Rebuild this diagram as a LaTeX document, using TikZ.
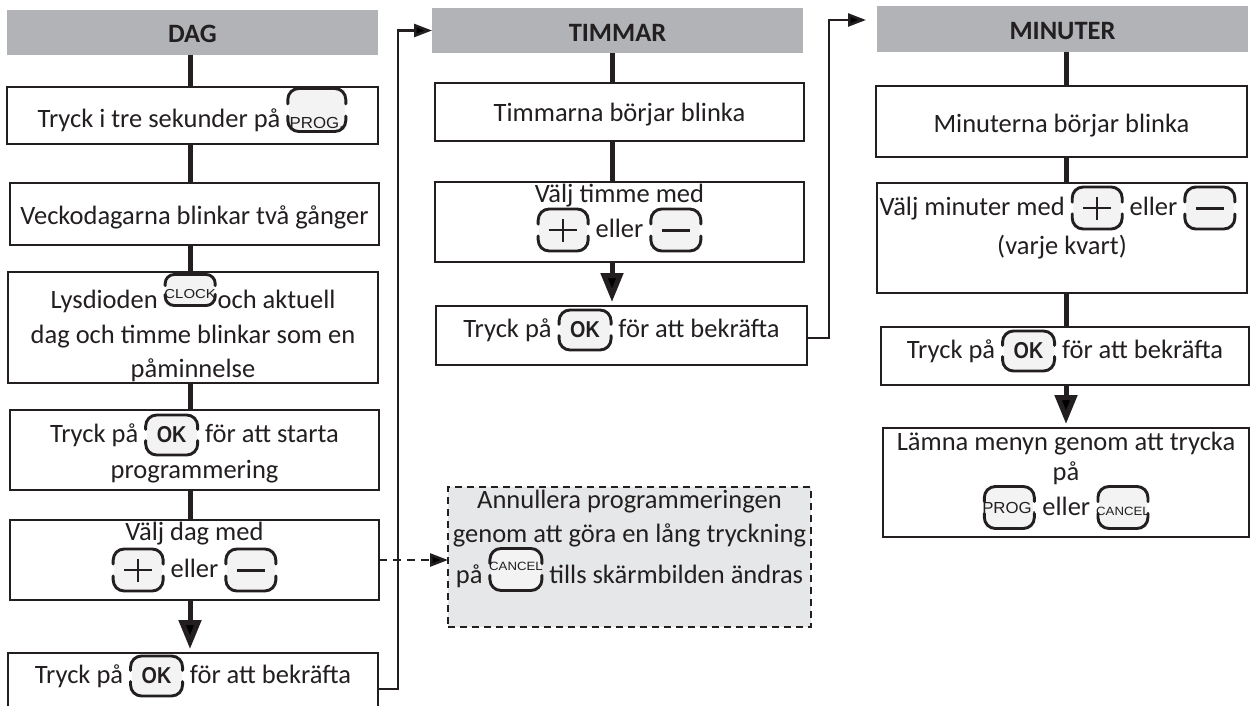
\documentclass[tikz,border=0pt]{standalone}
\usepackage{fontspec}
\setmainfont{Carlito}
\newfontfamily\lblfont{Liberation Sans}
\usepackage{graphicx}
\usetikzlibrary{arrows.meta,calc}
\definecolor{ink}{HTML}{231F20}
\definecolor{hdrgray}{HTML}{B1B3B6}
\definecolor{dashfill}{HTML}{E6E7E8}
\definecolor{btnbg}{HTML}{F3F3F3}
\tikzset{
  ilbl/.style={anchor=center,inner sep=0pt,outer sep=0pt,draw=none,fill=none,text=ink},
}
% #1 width, #2 height, #3 corner radius
\newcommand\btnframe[3]{%
  \fill[btnbg] ({-#1/2+1},{-#2/2+1}) rectangle ({#1/2-1},{#2/2-1});
  \draw[ink,line width=2.9pt,line cap=round]
    ({-#1/2},{#2/2-0.36*#2}) -- ({-#1/2},{#2/2-#3}) arc[start angle=180,end angle=90,radius=#3]
      -- ({#1/2-#3},{#2/2}) arc[start angle=90,end angle=0,radius=#3] -- ({#1/2},{#2/2-0.36*#2})
    ({-#1/2},{-#2/2+0.36*#2}) -- ({-#1/2},{-#2/2+#3}) arc[start angle=180,end angle=270,radius=#3]
      -- ({#1/2-#3},{-#2/2}) arc[start angle=270,end angle=360,radius=#3] -- ({#1/2},{-#2/2+0.36*#2});
}
\newcommand\okicon{\tikz[x=1pt,y=1pt,baseline=-7pt]{\btnframe{52}{40}{11}%
  \node[ilbl,font=\lblfont\bfseries\fontsize{23}{23}\selectfont] (oklbl) at (0,0) {\scalebox{0.86}[1]{OK}};}}
\newcommand\plusicon{\tikz[x=1pt,y=1pt,baseline=-7pt]{\btnframe{50}{42}{11}%
  \draw[ink,line width=2.4pt] (-14,0)--(14,0) (0,-11.5)--(0,11.5);}}
\newcommand\minusicon{\tikz[x=1pt,y=1pt,baseline=-7pt]{\btnframe{50}{42}{11}%
  \draw[ink,line width=3pt] (-14,0)--(14,0);}}
% #1 w, #2 h, #3 centre above baseline, #4 label offset
\newcommand\progicon[4]{\tikz[x=1pt,y=1pt,baseline=-#3pt]{\btnframe{#1}{#2}{11}%
  \node[ilbl,font=\lblfont\fontsize{16}{16}\selectfont] (proglbl) at (0,#4) {\scalebox{1.05}[1]{PROG.}};}}
\newcommand\clockicon{\tikz[x=1pt,y=1pt,baseline=-18pt]{\btnframe{50}{31}{9}%
  \node[ilbl,font=\lblfont\fontsize{13}{13}\selectfont] (clocklbl) at (0,-4) {\scalebox{1.15}[1]{CLOCK}};}}
\newcommand\cancelicon[4]{\tikz[x=1pt,y=1pt,baseline=-#3pt]{\btnframe{#1}{#2}{11}%
  \node[ilbl,font=\lblfont\fontsize{12}{12}\selectfont] (cancellbl) at (0,#4) {\scalebox{1.1}[1]{CANCEL}};}}

\begin{document}
\begin{tikzpicture}[x=1pt,y=-1pt,
  hdr/.style={fill=hdrgray,draw=none,inner sep=0pt,outer sep=0pt,anchor=north west},
  box/.style={draw=ink,line width=2.6pt,fill=white,inner sep=0pt,outer sep=0pt,anchor=north west},
  dbox/.style={box,fill=dashfill,line width=2.4pt,dash pattern=on 7pt off 5pt},
  txt/.style={anchor=base,inner sep=0pt,outer sep=0pt,text=ink,font=\fontsize{26.5}{30}\selectfont},
  htxt/.style={txt,font=\fontsize{26.5}{30}\selectfont\bfseries},
  stem/.style={draw=ink,line width=5pt},
  bigarrow/.style={stem,-{Triangle[width=22pt,length=29pt]},shorten >=4pt},
  link/.style={draw=ink,line width=2.6pt,-{Triangle[width=13pt,length=18pt]}},
  dlink/.style={link,dash pattern=on 8pt off 6pt},
]
\fill[white] (0,0) rectangle (1250,706);
\useasboundingbox (0,0) rectangle (1250,706);

% ---------- DAG column ----------
\node[hdr,minimum width=371pt,minimum height=45pt] (h1) at (7,10) {};
\node[box,minimum width=371pt,minimum height=57pt] (b1) at (7,87) {};
\node[box,minimum width=369pt,minimum height=62pt] (b2) at (10,183) {};
\node[box,minimum width=370pt,minimum height=111pt] (b3) at (8,272) {};
\node[box,minimum width=369pt,minimum height=80pt] (b4) at (10,410) {};
\node[box,minimum width=369pt,minimum height=80pt] (b5) at (10,520) {};
\node[box,minimum width=370pt,minimum height=60pt] (b6) at (8,653) {};

\node[htxt] (h1t) at (192.5,43) {DAG};
\node[txt] (b1a) at (192.5,128) {Tryck i tre sekunder på {\progicon{58}{43}{18}{-12.5}}};
\node[txt] (b2a) at (194.5,224) {Veckodagarna blinkar två gånger};
\node[txt] (b3a) at (193,308) {Lysdioden {\clockicon}\hspace{1pt}och aktuell};
\node[txt] (b3b) at (193,343) {dag och timme blinkar som en};
\node[txt] (b3c) at (193,377) {påminnelse};
\node[txt] (b4a) at (194.5,442) {Tryck på {\okicon} för att starta};
\node[txt] (b4b) at (194.5,478) {programmering};
\node[txt] (b5a) at (194.5,540) {Välj dag med};
\node[txt] (b5b) at (194.5,577) {{\plusicon} eller {\minusicon}};
\node[txt] (b6a) at (193,683) {Tryck på {\okicon} för att bekräfta};

% ---------- TIMMAR column ----------
\node[hdr,minimum width=371pt,minimum height=45pt] (h2) at (432,8) {};
\node[box,minimum width=369pt,minimum height=58pt] (t1) at (435,83) {};
\node[box,minimum width=369pt,minimum height=80pt] (t2) at (435,182) {};
\node[box,minimum width=371pt,minimum height=59pt] (t3) at (436,306) {};

\node[htxt] (h2t) at (617.5,42) {TIMMAR};
\node[txt] (t1a) at (619.5,122) {Timmarna börjar blinka};
\node[txt] (t2a) at (619.5,202) {Välj timme med};
\node[txt] (t2b) at (619.5,237) {{\plusicon} eller {\minusicon}};
\node[txt] (t3a) at (621.5,337) {Tryck på {\okicon} för att bekräfta};

% ---------- MINUTER column ----------
\node[hdr,minimum width=371pt,minimum height=46pt] (h3) at (877,6) {};
\node[box,minimum width=371pt,minimum height=71pt] (m1) at (876,86) {};
\node[box,minimum width=370pt,minimum height=110pt] (m2) at (877,183) {};
\node[box,minimum width=368pt,minimum height=58pt] (m3) at (881,327) {};
\node[box,minimum width=366pt,minimum height=109pt] (m4) at (883,428) {};

\node[htxt] (h3t) at (1062.5,40) {MINUTER};
\node[txt] (m1a) at (1061.5,132) {Minuterna börjar blinka};
\node[txt] (m2a) at (1058,215) {Välj minuter med {\plusicon} eller {\minusicon}};
\node[txt] (m2b) at (1062,254) {(varje kvart)};
\node[txt] (m3a) at (1065,358) {Tryck på {\okicon} för att bekräfta};
\node[txt] (m4a) at (1066,450) {Lämna menyn genom att trycka};
\node[txt] (m4b) at (1066,480) {på};
\node[txt] (m4c) at (1066,515) {{\progicon{50}{42}{7.5}{0}} eller {\cancelicon{50}{42}{7.5}{-3.5}}};

% ---------- dashed note ----------
\node[dbox,minimum width=363pt,minimum height=140pt] (d) at (448,487) {};
\node[txt] (da) at (629.5,508) {Annullera programmeringen};
\node[txt] (db) at (629.5,542) {genom att göra en lång tryckning};
\node[txt] (dc) at (629.5,583) {på {\cancelicon{52}{42}{13.5}{3}} tills skärmbilden ändras};

% ---------- connectors ----------
\draw[stem] ([xshift=-2.5pt]h1.south) -- ([xshift=-2.5pt]h1.south |- b1.north);
\draw[stem] ([xshift=-2.5pt]b1.south) -- ([xshift=-2.5pt]b1.south |- b2.north);
\draw[stem] ([xshift=-4.5pt]b2.south) -- ([xshift=-4.5pt]b2.south |- b3.north);
\draw[stem] ([xshift=-3pt]b3.south) -- ([xshift=-3pt]b3.south |- b4.north);
\draw[stem] ([xshift=-4.5pt]b4.south) -- ([xshift=-4.5pt]b4.south |- b5.north);
\draw[bigarrow] ([xshift=-4.5pt]b5.south) -- ([xshift=-4.5pt]b5.south |- b6.north);

\draw[stem] ([xshift=-5.5pt]h2.south) -- ([xshift=-5.5pt]h2.south |- t1.north);
\draw[stem] ([xshift=-7.5pt]t1.south) -- ([xshift=-7.5pt]t1.south |- t2.north);
\draw[bigarrow] ([xshift=-7.5pt]t2.south) -- ([xshift=-7.5pt]t2.south |- t3.north);

\draw[stem] ([xshift=3.5pt]h3.south) -- ([xshift=3.5pt]h3.south |- m1.north);
\draw[stem] ([xshift=4.5pt]m1.south) -- ([xshift=4.5pt]m1.south |- m2.north);
\draw[stem] ([xshift=4pt]m2.south) -- ([xshift=4pt]m2.south |- m3.north);
\draw[bigarrow] ([xshift=1pt]m3.south) -- ([xshift=1pt]m3.south |- m4.north);

\draw[link] ([yshift=-6pt]b6.east) -- ++(20,0) |- (h2.west);
\draw[link,shorten >=11pt] ([yshift=-2.5pt]t3.east) -- ++(22,0) |- ([yshift=9pt]h3.west);
\draw[dlink] (b5.east) -- (b5.east -| d.west);
\end{tikzpicture}
\end{document}
